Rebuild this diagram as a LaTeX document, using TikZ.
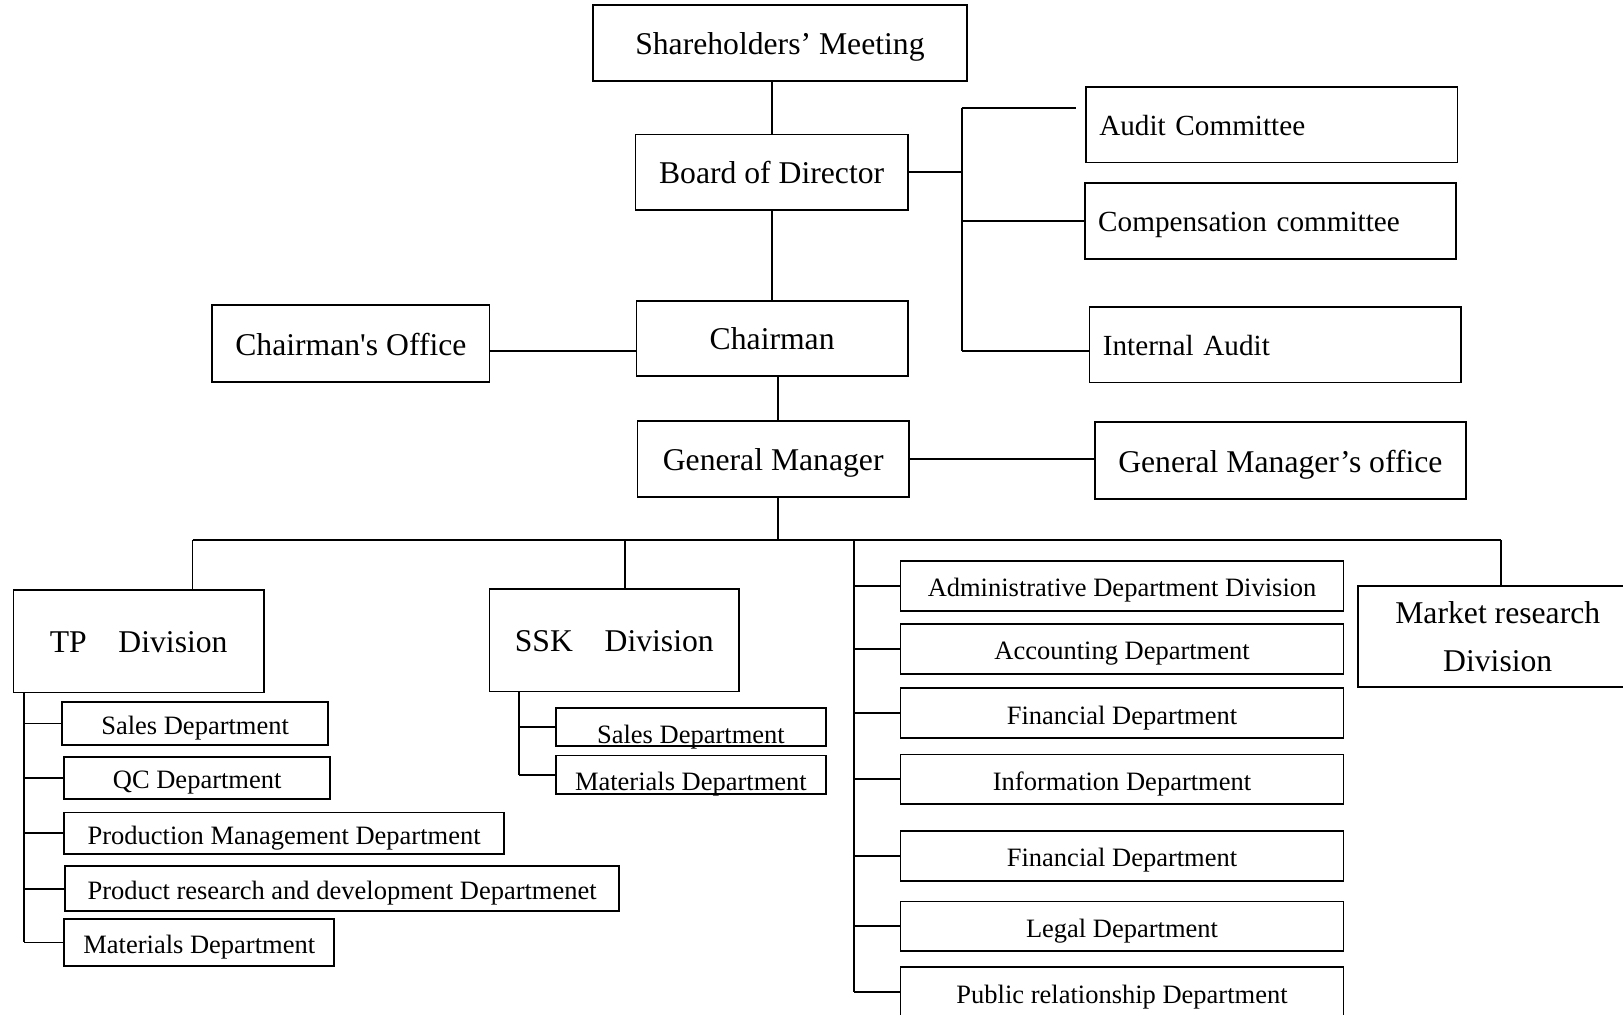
\documentclass[tikz,border=0pt]{standalone}
\usepackage{fontspec}
\setmainfont{Liberation Serif}
\usetikzlibrary{positioning}

\begin{document}
\begin{tikzpicture}[x=0.5pt,y=-0.5pt,line width=0.9pt,
		box/.style={draw,line width=0.85pt,inner sep=0pt,align=center},
		big/.style={box,font=\fontsize{15.3}{23}\selectfont,text height=12.5pt,text depth=1.5pt},
		comm/.style={box,font=\fontsize{14.1}{17}\selectfont,minimum height=36.5pt,
			text width=166.5pt,inner xsep=6.5pt,align=left,text height=11.5pt,text depth=1.5pt},
		dept/.style={box,font=\fontsize{12.8}{15}\selectfont,text height=11pt,text depth=0.5pt},
		middept/.style={dept,minimum width=214pt,minimum height=24pt},
		sskdept/.style={dept,minimum width=130.5pt,minimum height=18.5pt,text height=17pt,text depth=1.5pt}]
		
		\useasboundingbox (0,0) rectangle (1568,980);
		\clip (0,0) rectangle (1568,980);
		
		%---------------- Top ----------------%
		
		\node[big,minimum width=180.5pt,minimum height=36.5pt] (share) at (753.5,41.5)
		{Shareholders’ Meeting};
		
		\node[big,minimum width=131.5pt,minimum height=36.5pt] (board) at (745.5,166.5)
		{Board of Director};
		
		\node[big,minimum width=131pt,minimum height=36pt] (chair) at (746,327)
		{Chairman};
		
		\node[big,minimum width=134pt,minimum height=37pt] (coff) at (339,332)
		{Chairman\textquotesingle s Office};
		
		\node[big,minimum width=131pt,minimum height=36.5pt] (gm) at (747,443.5)
		{General Manager};
		
		\node[big,minimum width=179pt,minimum height=37pt] (gmo) at (1237,445)
		{General Manager’s office};
		
		\node[comm] (aud) at (1228.5,120.5) {Audit Committee};
		\node[comm] (comp) at (1227.5,213.5) {Compensation committee};
		\node[comm] (ia) at (1232,333) {Internal Audit};
		
		\coordinate (cbtop) at (929,104);
		\coordinate (cbbot) at (929,339);
		\coordinate (audend) at (1040,104);
		
		\draw (board.north) -- (board.north |- share.south);
		\draw (board.south) -- (board.south |- chair.north);
		\draw (cbtop) -- (cbbot);
		\draw (board.east) -- (board.east -| cbtop);
		\draw (cbtop) -- (audend);
		\draw (comp.west) -- (comp.west -| cbtop);
		\draw (cbbot) -- (cbbot -| ia.west);
		\draw ([yshift=-3.5pt]coff.east) coordinate (coffr) -- (coffr -| chair.west);
		\coordinate (cgtop) at ([xshift=3pt]chair.south);
		\draw (cgtop) -- (cgtop |- gm.north);
		\draw (gm.east) -- (gm.east -| gmo.west);
		
		%---------------- Divisions ----------------%
		
		\node[big,minimum width=121pt,minimum height=49.5pt] (tp) at (134,619.5)
		{TP\quad Division};
		
		\node[big,minimum width=120.5pt,minimum height=49.5pt] (ssk) at (593.5,618.5)
		{SSK\quad Division};
		
		\node[box,font=\fontsize{15.3}{23}\selectfont,minimum width=135pt,minimum height=49pt] (mkt) at (1447,615)
		{Market research\\Division};
		
		\coordinate (mbl) at (186,522);
		\coordinate (mbr) at (1450,522);
		\coordinate (sskd) at (604,522);
		\coordinate (midb) at (825,522);
		
		\draw (mbl) -- (mbr);
		\draw (cgtop |- gm.south) -- (cgtop |- mbl);
		\draw (mbl) -- (mbl |- tp.north);
		\draw (sskd) -- (sskd |- ssk.north);
		\draw (mbr) -- (mbr |- mkt.north);
		
		%---------------- TP departments ----------------%
		
		\node[dept,minimum width=128.5pt,minimum height=21pt] (tps1) at (188.5,699) {Sales Department};
		\node[dept,minimum width=128.5pt,minimum height=20.5pt] (tps2) at (190.5,751.5) {QC Department};
		\node[dept,minimum width=212.5pt,minimum height=20pt] (tps3) at (274.5,805) {Production Management Department};
		\node[dept,minimum width=267.5pt,minimum height=21.5pt] (tps4) at (330.5,858.5) {Product research and development Departmenet};
		\node[dept,minimum width=130.5pt,minimum height=22.5pt] (tps5) at (192.5,910.5) {Materials Department};
		
		\coordinate (tpv) at (23,669);
		\draw (tpv) -- (tpv |- tps5.west);
		\draw (tps1.west) -- (tps1.west -| tpv);
		\draw (tps2.west) -- (tps2.west -| tpv);
		\draw (tps3.west) -- (tps3.west -| tpv);
		\draw (tps4.west) -- (tps4.west -| tpv);
		\draw (tps5.west) -- (tps5.west -| tpv);
		
		%---------------- SSK departments ----------------%
		
		\node[sskdept] (ssks1) at (667.5,702.5) {Sales Department};
		\node[sskdept] (ssks2) at (667.5,748.5) {Materials Department};
		
		\coordinate (sskv) at (501,668);
		\draw (sskv) -- (sskv |- ssks2.west);
		\draw (ssks1.west) -- (ssks1.west -| sskv);
		\draw (ssks2.west) -- (ssks2.west -| sskv);
		
		%---------------- Staff departments ----------------%
		
		\node[middept] (m1) at (1084,566) {Administrative Department Division};
		\node[middept] (m2) at (1084,627) {Accounting Department};
		\node[middept] (m3) at (1084,689) {Financial Department};
		\node[middept] (m4) at (1084,753) {Information Department};
		\node[middept] (m5) at (1084,827) {Financial Department};
		\node[middept] (m6) at (1084,895) {Legal Department};
		\node[middept] (m7) at (1084,958.5) {Public relationship Department};
		
		\draw (midb) -- (midb |- m7.west);
		\draw (m1.west) -- (m1.west -| midb);
		\draw (m2.west) -- (m2.west -| midb);
		\draw (m3.west) -- (m3.west -| midb);
		\draw (m4.west) -- (m4.west -| midb);
		\draw (m5.west) -- (m5.west -| midb);
		\draw (m6.west) -- (m6.west -| midb);
		\draw (m7.west) -- (m7.west -| midb);
		
	\end{tikzpicture}
\end{document}
